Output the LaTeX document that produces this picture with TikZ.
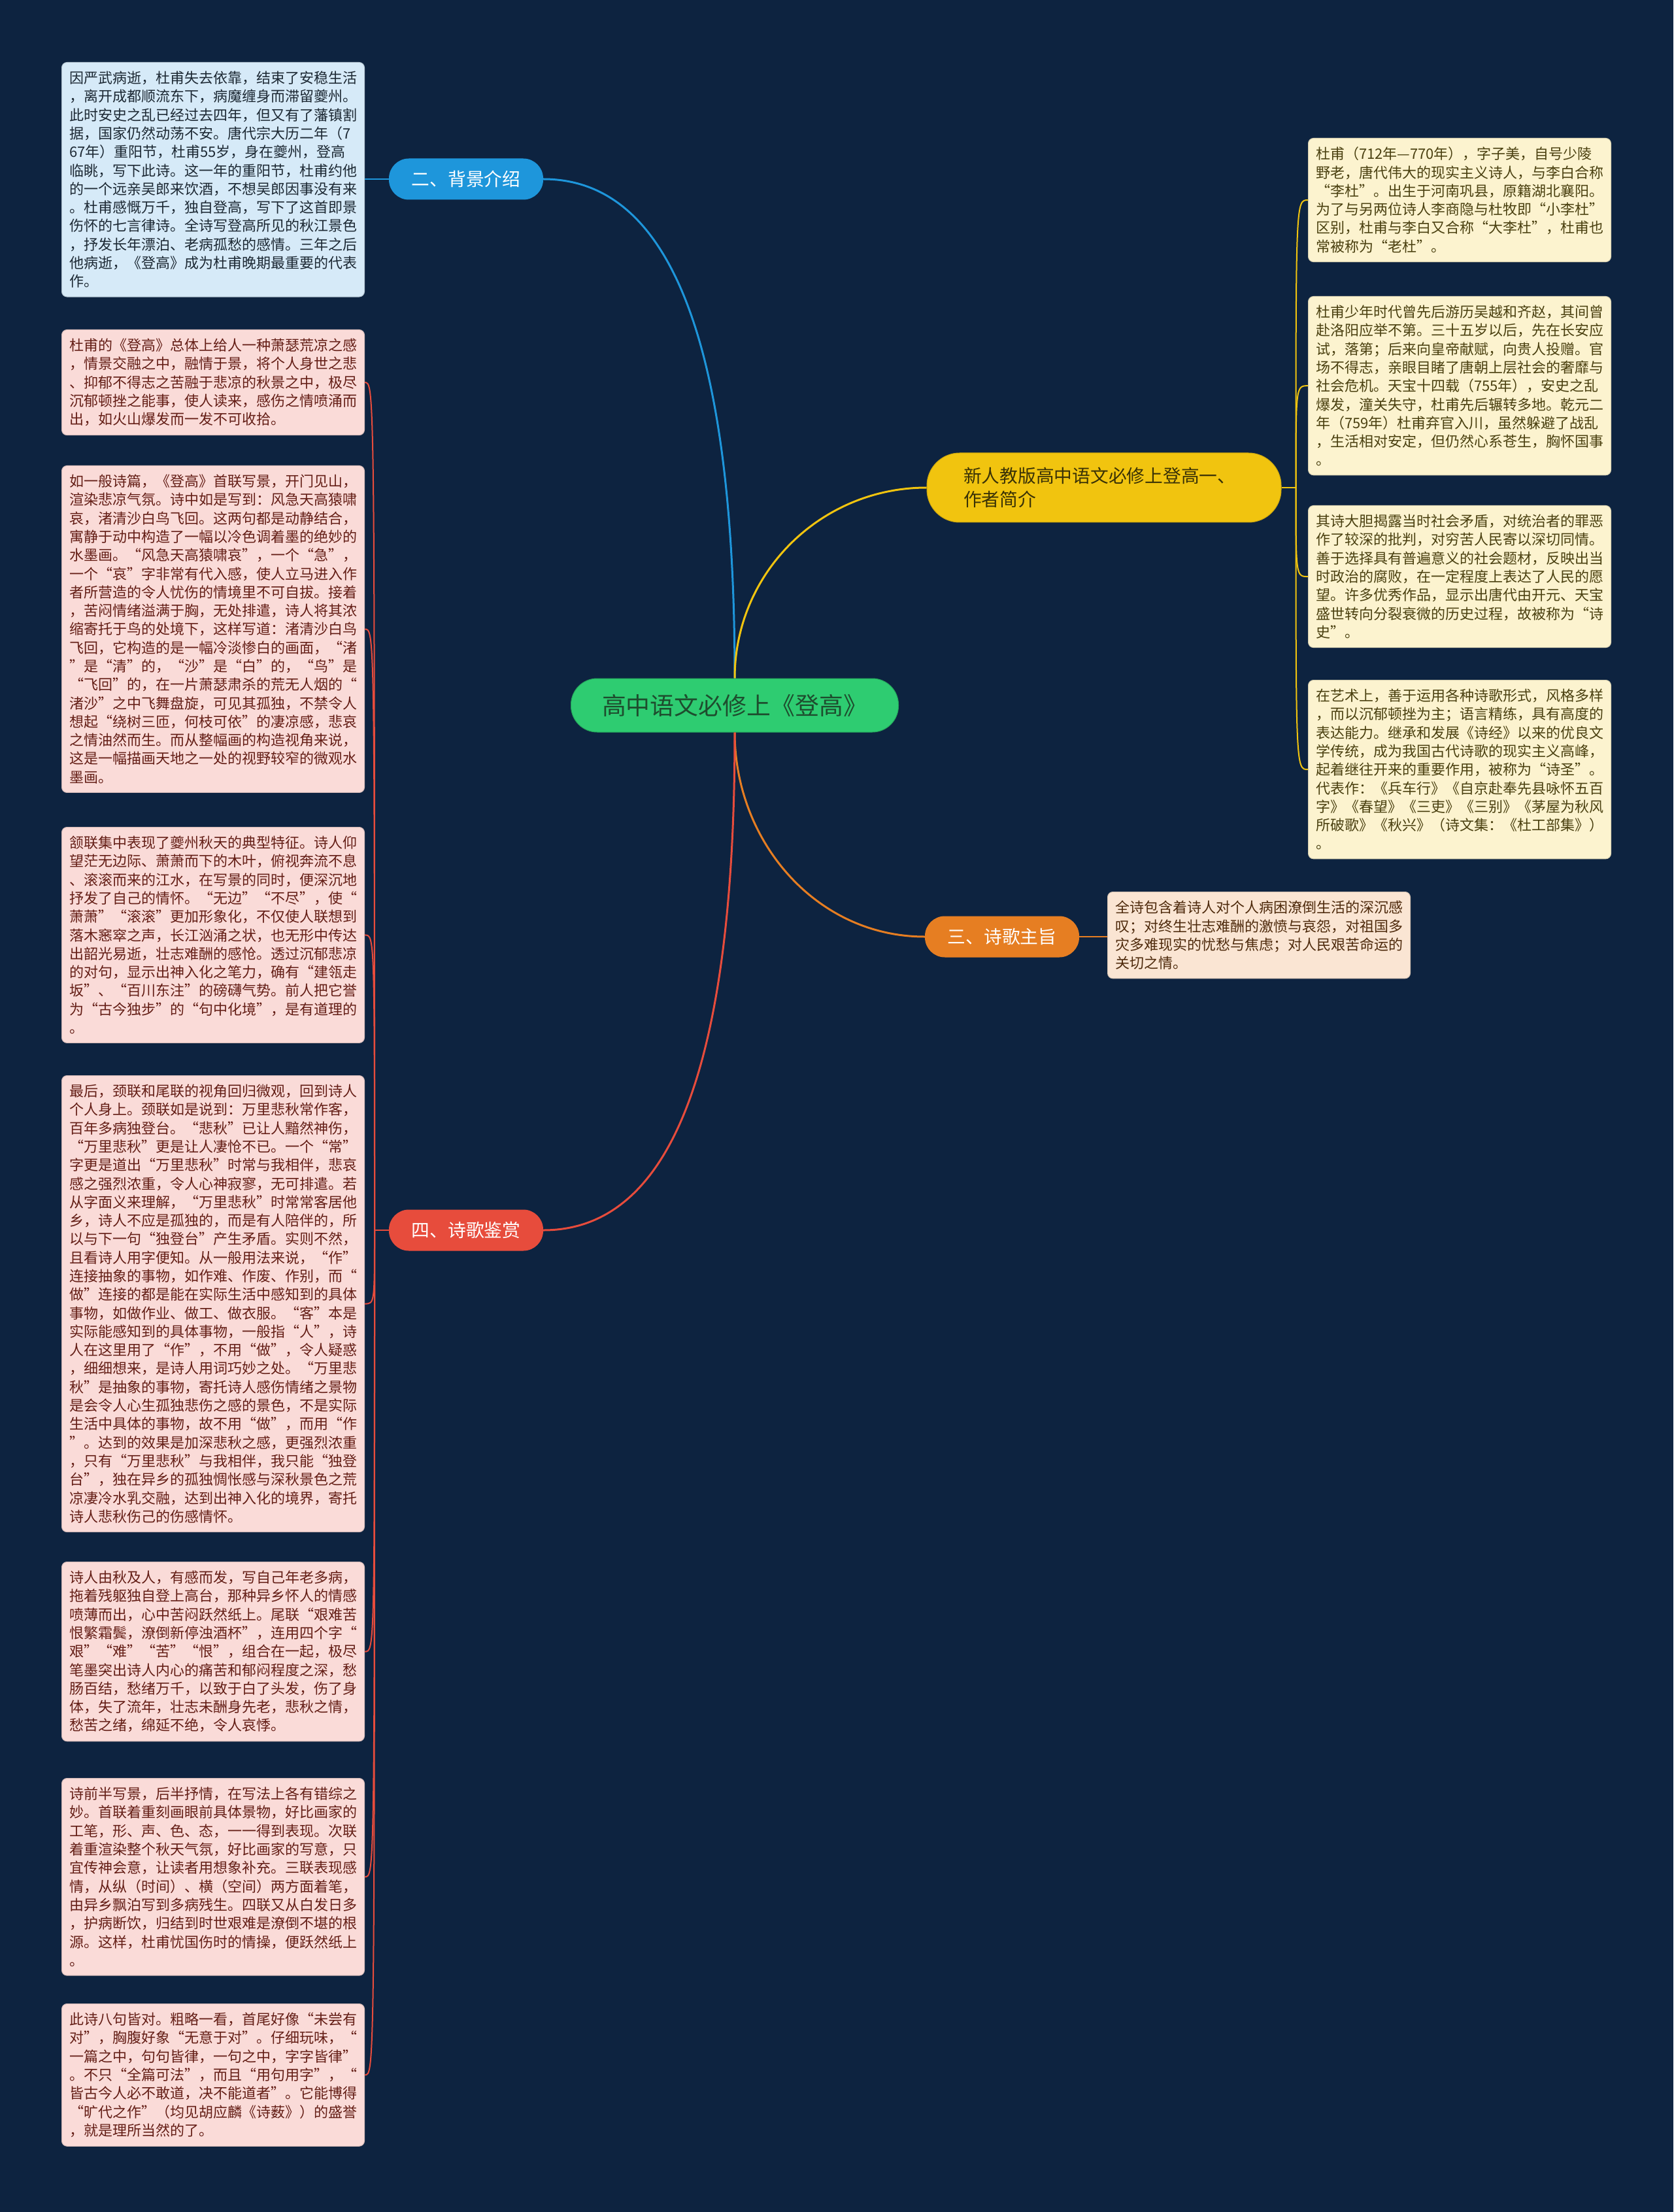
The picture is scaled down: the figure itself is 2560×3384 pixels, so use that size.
\documentclass[tikz,border=0pt]{standalone}
\usepackage{fontspec}
\setmainfont{Noto Sans CJK SC}
\usepackage{tikz}
\usetikzlibrary{positioning}
\definecolor{MapNight}{HTML}{0D2340}
\definecolor{MapGreen}{HTML}{2ECC71}
\definecolor{MapGreenInk}{HTML}{1E4D2E}
\definecolor{MapGold}{HTML}{F1C40F}
\definecolor{MapGoldInk}{HTML}{3A3206}
\definecolor{MapGoldPaper}{HTML}{FCF3CF}
\definecolor{MapGoldText}{HTML}{4A4010}
\definecolor{MapSky}{HTML}{1E96DB}
\definecolor{MapSkyPaper}{HTML}{D6EAF8}
\definecolor{MapSkyText}{HTML}{1C2833}
\definecolor{MapAmber}{HTML}{E67E22}
\definecolor{MapAmberPaper}{HTML}{FAE5D3}
\definecolor{MapAmberText}{HTML}{4E2A0C}
\definecolor{MapRed}{HTML}{E74C3C}
\definecolor{MapRedPaper}{HTML}{FADBD8}
\definecolor{MapRedText}{HTML}{641E16}
\newcommand\leaftext{\fontsize{6.26pt}{8.05pt}\selectfont}
\newcommand\topictext{\fontsize{7.9pt}{10.4pt}\selectfont}
\newcommand\roottext{\fontsize{10.5pt}{12pt}\selectfont}
\tikzset{
  mroot/.style={fill=MapGreen,draw=MapGreen!80!black,line width=0.1mm,rounded corners=4mm,minimum width=50.1mm,minimum height=8.2mm,font=\roottext,text=MapGreenInk},
  mtopic/.style={rounded corners=3mm,minimum width=23.5mm,minimum height=6.2mm,font=\topictext,text=white,line width=0.1mm},
  mauthor/.style={fill=MapGold,draw=MapGold!85!black,line width=0.1mm,rounded corners=5mm,align=left,text width=43mm,inner xsep=5.6mm,minimum height=10.6mm,font=\topictext,text=MapGoldInk},
  mleaf/.style={rounded corners=0.8mm,align=left,text width=44mm,inner xsep=1.15mm,inner ysep=1.35mm,font=\leaftext,anchor=north west,line width=0.1mm},
  mskybox/.style={mleaf,fill=MapSkyPaper,draw=MapSkyPaper!85!black,text=MapSkyText},
  mpinkbox/.style={mleaf,fill=MapRedPaper,draw=MapRedPaper!85!black,text=MapRedText},
  mgoldbox/.style={mleaf,fill=MapGoldPaper,draw=MapGoldPaper!85!black,text=MapGoldText},
  mamberbox/.style={mleaf,fill=MapAmberPaper,draw=MapAmberPaper!85!black,text=MapAmberText},
  mbranch/.style={line width=0.3mm},
  mtwig/.style={line width=0.2mm}
}

\begin{document}
\begin{tikzpicture}[x=0.1mm,y=-0.1mm]
  \useasboundingbox (0,0) rectangle (2560,3384);
  \fill[MapNight] (0,0) rectangle (2560,3384);

  % main nodes
  \node[mroot] (root) at (1124,1079) {高中语文必修上《登高》};
  \node[mauthor] (author) at (1689,746) {新人教版高中语文必修上登高一、\\作者简介};
  \node[mtopic,fill=MapSky,draw=MapSky] (background) at (713,274) {二、背景介绍};
  \node[mtopic,fill=MapAmber,draw=MapAmber] (theme) at (1533,1433) {三、诗歌主旨};
  \node[mtopic,fill=MapRed,draw=MapRed] (appre) at (713,1882) {四、诗歌鉴赏};
  \coordinate[right=2.2mm of author] (authorfork);
  \coordinate[left=2.2mm of appre] (apprefork);

  % background
  \node[mskybox] (bginfo) at (94,95) {因严武病逝，杜甫失去依靠，结束了安稳生活\\，离开成都顺流东下，病魔缠身而滞留夔州。\\此时安史之乱已经过去四年，但又有了藩镇割\\据，国家仍然动荡不安。唐代宗大历二年（7\\67年）重阳节，杜甫55岁，身在夔州，登高\\临眺，写下此诗。这一年的重阳节，杜甫约他\\的一个远亲吴郎来饮酒，不想吴郎因事没有来\\。杜甫感慨万千，独自登高，写下了这首即景\\伤怀的七言律诗。全诗写登高所见的秋江景色\\，抒发长年漂泊、老病孤愁的感情。三年之后\\他病逝，《登高》成为杜甫晚期最重要的代表\\作。};

  % author
  \node[mgoldbox] (author1) at (2001,211) {杜甫（712年—770年），字子美，自号少陵\\野老，唐代伟大的现实主义诗人，与李白合称\\“李杜”。出生于河南巩县，原籍湖北襄阳。\\为了与另两位诗人李商隐与杜牧即“小李杜”\\区别，杜甫与李白又合称“大李杜”，杜甫也\\常被称为“老杜”。};
  \node[mgoldbox] (author2) at (2001,453) {杜甫少年时代曾先后游历吴越和齐赵，其间曾\\赴洛阳应举不第。三十五岁以后，先在长安应\\试，落第；后来向皇帝献赋，向贵人投赠。官\\场不得志，亲眼目睹了唐朝上层社会的奢靡与\\社会危机。天宝十四载（755年），安史之乱\\爆发，潼关失守，杜甫先后辗转多地。乾元二\\年（759年）杜甫弃官入川，虽然躲避了战乱\\，生活相对安定，但仍然心系苍生，胸怀国事\\。};
  \node[mgoldbox] (author3) at (2001,773) {其诗大胆揭露当时社会矛盾，对统治者的罪恶\\作了较深的批判，对穷苦人民寄以深切同情。\\善于选择具有普遍意义的社会题材，反映出当\\时政治的腐败，在一定程度上表达了人民的愿\\望。许多优秀作品，显示出唐代由开元、天宝\\盛世转向分裂衰微的历史过程，故被称为“诗\\史”。};
  \node[mgoldbox] (author4) at (2001,1040) {在艺术上，善于运用各种诗歌形式，风格多样\\，而以沉郁顿挫为主；语言精练，具有高度的\\表达能力。继承和发展《诗经》以来的优良文\\学传统，成为我国古代诗歌的现实主义高峰，\\起着继往开来的重要作用，被称为“诗圣”。\\代表作：《兵车行》《自京赴奉先县咏怀五百\\字》《春望》《三吏》《三别》《茅屋为秋风\\所破歌》《秋兴》（诗文集：《杜工部集》）\\。};

  % theme
  \node[mamberbox] (theme1) at (1694,1364) {全诗包含着诗人对个人病困潦倒生活的深沉感\\叹；对终生壮志难酬的激愤与哀怨，对祖国多\\灾多难现实的忧愁与焦虑；对人民艰苦命运的\\关切之情。};

  % appreciation
  \node[mpinkbox] (appre1) at (94,504) {杜甫的《登高》总体上给人一种萧瑟荒凉之感\\，情景交融之中，融情于景，将个人身世之悲\\、抑郁不得志之苦融于悲凉的秋景之中，极尽\\沉郁顿挫之能事，使人读来，感伤之情喷涌而\\出，如火山爆发而一发不可收拾。};
  \node[mpinkbox] (appre2) at (94,712) {如一般诗篇，《登高》首联写景，开门见山，\\渲染悲凉气氛。诗中如是写到：风急天高猿啸\\哀，渚清沙白鸟飞回。这两句都是动静结合，\\寓静于动中构造了一幅以冷色调着墨的绝妙的\\水墨画。“风急天高猿啸哀”，一个“急”，\\一个“哀”字非常有代入感，使人立马进入作\\者所营造的令人忧伤的情境里不可自拔。接着\\，苦闷情绪溢满于胸，无处排遣，诗人将其浓\\缩寄托于鸟的处境下，这样写道：渚清沙白鸟\\飞回，它构造的是一幅冷淡惨白的画面，“渚\\”是“清”的，“沙”是“白”的，“鸟”是\\“飞回”的，在一片萧瑟肃杀的荒无人烟的“\\渚沙”之中飞舞盘旋，可见其孤独，不禁令人\\想起“绕树三匝，何枝可依”的凄凉感，悲哀\\之情油然而生。而从整幅画的构造视角来说，\\这是一幅描画天地之一处的视野较窄的微观水\\墨画。};
  \node[mpinkbox] (appre3) at (94,1265) {颔联集中表现了夔州秋天的典型特征。诗人仰\\望茫无边际、萧萧而下的木叶，俯视奔流不息\\、滚滚而来的江水，在写景的同时，便深沉地\\抒发了自己的情怀。“无边”“不尽”，使“\\萧萧”“滚滚”更加形象化，不仅使人联想到\\落木窸窣之声，长江汹涌之状，也无形中传达\\出韶光易逝，壮志难酬的感怆。透过沉郁悲凉\\的对句，显示出神入化之笔力，确有“建瓴走\\坂”、“百川东注”的磅礴气势。前人把它誉\\为“古今独步”的“句中化境”，是有道理的\\。};
  \node[mpinkbox] (appre4) at (94,1645) {最后，颈联和尾联的视角回归微观，回到诗人\\个人身上。颈联如是说到：万里悲秋常作客，\\百年多病独登台。“悲秋”已让人黯然神伤，\\“万里悲秋”更是让人凄怆不已。一个“常”\\字更是道出“万里悲秋”时常与我相伴，悲哀\\感之强烈浓重，令人心神寂寥，无可排遣。若\\从字面义来理解，“万里悲秋”时常常客居他\\乡，诗人不应是孤独的，而是有人陪伴的，所\\以与下一句“独登台”产生矛盾。实则不然，\\且看诗人用字便知。从一般用法来说，“作”\\连接抽象的事物，如作难、作废、作别，而“\\做”连接的都是能在实际生活中感知到的具体\\事物，如做作业、做工、做衣服。“客”本是\\实际能感知到的具体事物，一般指“人”，诗\\人在这里用了“作”，不用“做”，令人疑惑\\，细细想来，是诗人用词巧妙之处。“万里悲\\秋”是抽象的事物，寄托诗人感伤情绪之景物\\是会令人心生孤独悲伤之感的景色，不是实际\\生活中具体的事物，故不用“做”，而用“作\\”。达到的效果是加深悲秋之感，更强烈浓重\\，只有“万里悲秋”与我相伴，我只能“独登\\台”，独在异乡的孤独惆怅感与深秋景色之荒\\凉凄冷水乳交融，达到出神入化的境界，寄托\\诗人悲秋伤己的伤感情怀。};
  \node[mpinkbox] (appre5) at (94,2389) {诗人由秋及人，有感而发，写自己年老多病，\\拖着残躯独自登上高台，那种异乡怀人的情感\\喷薄而出，心中苦闷跃然纸上。尾联“艰难苦\\恨繁霜鬓，潦倒新停浊酒杯”，连用四个字“\\艰”“难”“苦”“恨”，组合在一起，极尽\\笔墨突出诗人内心的痛苦和郁闷程度之深，愁\\肠百结，愁绪万千，以致于白了头发，伤了身\\体，失了流年，壮志未酬身先老，悲秋之情，\\愁苦之绪，绵延不绝，令人哀悸。};
  \node[mpinkbox] (appre6) at (94,2720) {诗前半写景，后半抒情，在写法上各有错综之\\妙。首联着重刻画眼前具体景物，好比画家的\\工笔，形、声、色、态，一一得到表现。次联\\着重渲染整个秋天气氛，好比画家的写意，只\\宜传神会意，让读者用想象补充。三联表现感\\情，从纵（时间）、横（空间）两方面着笔，\\由异乡飘泊写到多病残生。四联又从白发日多\\，护病断饮，归结到时世艰难是潦倒不堪的根\\源。这样，杜甫忧国伤时的情操，便跃然纸上\\。};
  \node[mpinkbox] (appre7) at (94,3065) {此诗八句皆对。粗略一看，首尾好像“未尝有\\对”，胸腹好象“无意于对”。仔细玩味，“\\一篇之中，句句皆律，一句之中，字字皆律”\\。不只“全篇可法”，而且“用句用字”，“\\皆古今人必不敢道，决不能道者”。它能博得\\“旷代之作”（均见胡应麟《诗薮》）的盛誉\\，就是理所当然的了。};

  % branches
  \draw[mbranch,MapSky] (root.north) .. controls +(0,-550) and +(180,0) .. (background.east);
  \draw[mbranch,MapGold] (root.north) to[out=90,in=180] (author.west);
  \draw[mbranch,MapAmber] (root.south) to[out=-90,in=180] (theme.west);
  \draw[mbranch,MapRed] (root.south) .. controls +(0,550) and +(180,0) .. (appre.east);

  % twigs
  \draw[mtwig,MapSky] (background.west) -- (bginfo.east |- background.west);
  \draw[mtwig,MapAmber] (theme.east) -- (theme1.west |- theme.east);
  \draw[mtwig,MapGold] (author.east) -- (authorfork);
  \foreach \b in {author1,author2,author3,author4}
    \draw[mtwig,MapGold] (authorfork) .. controls (authorfork |- \b.west) .. (\b.west);
  \draw[mtwig,MapRed] (appre.west) -- (apprefork);
  \foreach \b in {appre1,appre2,appre3,appre4,appre5,appre6,appre7}
    \draw[mtwig,MapRed] (apprefork) .. controls (apprefork |- \b.east) .. (\b.east);
\end{tikzpicture}
\end{document}
